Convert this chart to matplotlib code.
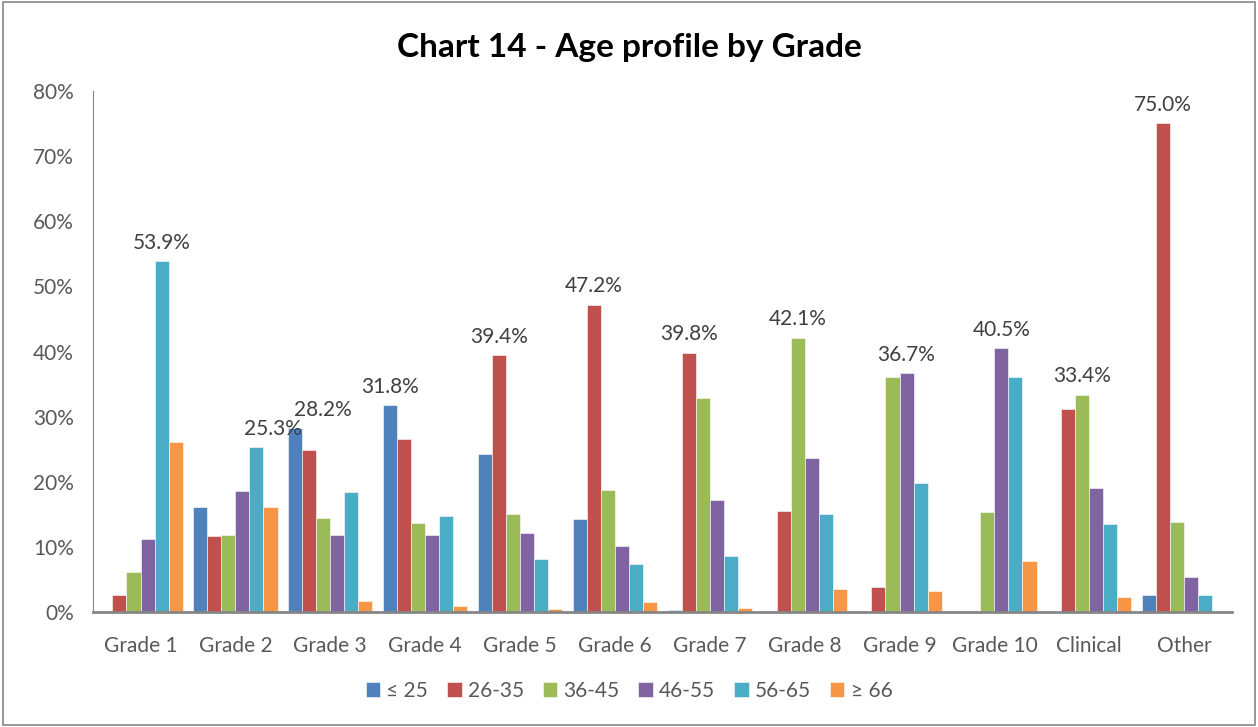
import numpy as np
import matplotlib
matplotlib.use("Agg")
import matplotlib.pyplot as plt
from matplotlib.patches import Rectangle

plt.rcParams['font.family'] = ['Lato', 'DejaVu Sans']

grades = ["Grade 1", "Grade 2", "Grade 3", "Grade 4", "Grade 5", "Grade 6",
          "Grade 7", "Grade 8", "Grade 9", "Grade 10", "Clinical", "Other"]
bands = ["≤ 25", "26-35", "36-45", "46-55", "56-65", "≥ 66"]
colors = ["#4F81BD", "#C0504D", "#9BBB59", "#8064A2", "#4BACC6", "#F79646"]

le25 = [0.0, 16.1, 28.2, 31.8, 24.3, 14.3, 0.3, 0.0, 0.0, 0.0, 0.0, 2.6]
a26_35 = [2.6, 11.7, 24.9, 26.5, 39.4, 47.2, 39.8, 15.5, 3.8, 0.0, 31.1, 75.0]
a36_45 = [6.1, 11.9, 14.5, 13.7, 15.1, 18.8, 32.8, 42.1, 36.1, 15.3, 33.4, 13.9]
a46_55 = [11.2, 18.6, 11.9, 11.9, 12.1, 10.2, 17.2, 23.7, 36.7, 40.5, 19.0, 5.4]
a56_65 = [53.9, 25.3, 18.4, 14.7, 8.1, 7.4, 8.6, 15.1, 19.8, 36.1, 13.6, 2.6]
ge66 = [26.1, 16.1, 1.7, 0.9, 0.5, 1.5, 0.7, 3.5, 3.2, 7.8, 2.3, 0.0]
series = [le25, a26_35, a36_45, a46_55, a56_65, ge66]

# label shifts (points) for the crowded groups
label_dx = {1: 12, 2: 20}

fig = plt.figure(figsize=(12.58, 7.27), dpi=100)
ax = fig.add_axes([0.074, 0.158, 0.905, 0.717])

x = np.arange(len(grades))
w = 0.148
data = np.array(series)
for i, (vals, name, c) in enumerate(zip(series, bands, colors)):
    ax.bar(x + (i - 2.5) * w, vals, width=w, color=c, label=name,
           edgecolor="white", linewidth=0.4)

# label the tallest bar in each group
for g in range(len(grades)):
    i = int(np.argmax(data[:, g]))
    v = data[i, g]
    ax.annotate(f"{v:.1f}%", (x[g] + (i - 2.5) * w, v),
                xytext=(label_dx.get(g, 0), 6), textcoords="offset points",
                ha="center", va="bottom", fontsize=15, color="#404040")

ax.set_xlim(-0.5, len(grades) - 0.5)
ax.set_ylim(0, 80)
ax.set_yticks(range(0, 81, 10))
ax.set_yticklabels([f"{t}%" for t in range(0, 81, 10)])
ax.set_xticks(x)
ax.set_xticklabels(grades)
ax.tick_params(axis="both", length=0, labelsize=15, colors="#595959")
ax.tick_params(axis="x", pad=17)
ax.tick_params(axis="y", pad=14)
for s in ["top", "right"]:
    ax.spines[s].set_visible(False)
ax.spines["left"].set_color("#868686")
ax.spines["bottom"].set_color("#868686")
ax.spines["bottom"].set_linewidth(2)

fig.suptitle("Chart 14 - Age profile by Grade", y=0.935, va="center",
             fontsize=24, fontweight="bold", color="black")
fig.legend(loc="center", bbox_to_anchor=(0.5, 0.05), ncol=6, frameon=False,
           fontsize=15, handlelength=0.7, handleheight=0.7, handletextpad=0.3,
           columnspacing=0.9, labelcolor="#595959")

fig.add_artist(Rectangle((0.002, 0.003), 0.996, 0.994, transform=fig.transFigure,
                         fill=False, edgecolor="#868686", linewidth=1.2))

fig.savefig("out.png", dpi=100)
